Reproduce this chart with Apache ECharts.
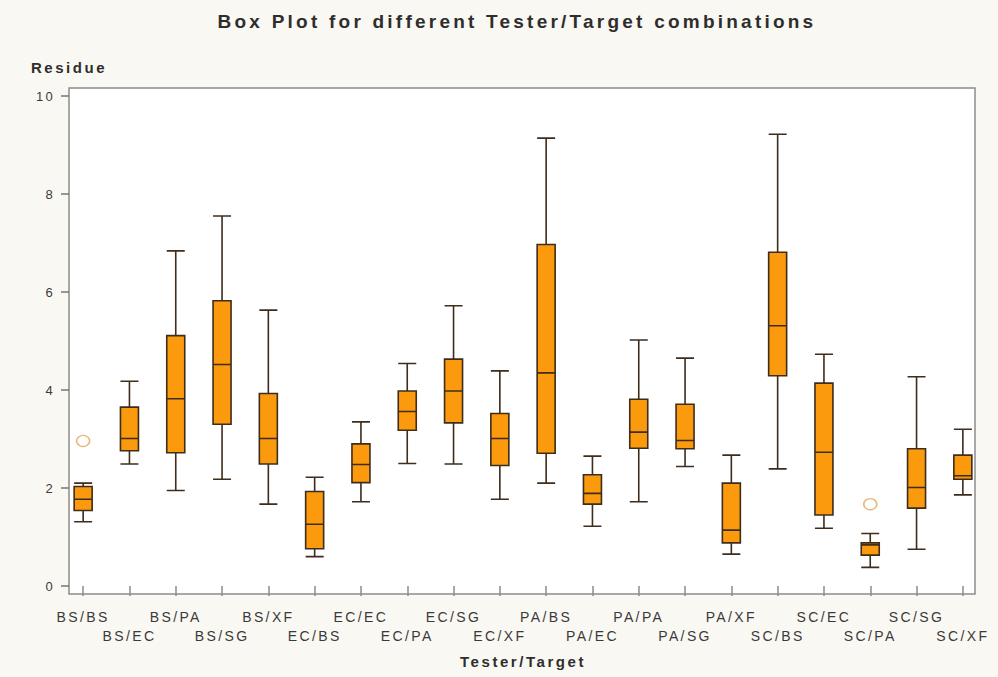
<!DOCTYPE html>
<html>
<head>
<meta charset="utf-8">
<title>Box Plot for different Tester/Target combinations</title>
<script src="https://cdn.jsdelivr.net/npm/echarts@6/dist/echarts.min.js"></script>
<style>
  html, body { margin: 0; padding: 0; background: #FAF8F2; }
  #chart { width: 998px; height: 677px; }
  /* widen the typeface a little, SAS-style */
  #chart svg text { letter-spacing: 0.17em; }
</style>
</head>
<body>
<div id="chart"></div>
<script>
// Tester/Target combinations
const categories = ['BS/BS','BS/EC','BS/PA','BS/SG','BS/XF','EC/BS','EC/EC','EC/PA','EC/SG','EC/XF',
                    'PA/BS','PA/EC','PA/PA','PA/SG','PA/XF','SC/BS','SC/EC','SC/PA','SC/SG','SC/XF'];

// Five-number summaries of Residue per combination
const lowerWhisker = [1.31, 2.49, 1.95, 2.18, 1.67, 0.60, 1.72, 2.50, 2.49, 1.77,
                      2.10, 1.22, 1.72, 2.44, 0.65, 2.39, 1.18, 0.38, 0.75, 1.86];
const q1           = [1.54, 2.76, 2.72, 3.30, 2.49, 0.76, 2.11, 3.18, 3.33, 2.46,
                      2.71, 1.67, 2.81, 2.80, 0.88, 4.29, 1.45, 0.63, 1.59, 2.18];
const median       = [1.77, 3.01, 3.82, 4.52, 3.01, 1.26, 2.48, 3.56, 3.98, 3.01,
                      4.35, 1.89, 3.14, 2.97, 1.14, 5.31, 2.73, 0.84, 2.01, 2.25];
const q3           = [2.03, 3.65, 5.11, 5.82, 3.93, 1.93, 2.90, 3.98, 4.63, 3.52,
                      6.97, 2.27, 3.81, 3.71, 2.10, 6.81, 4.14, 0.88, 2.80, 2.67];
const upperWhisker = [2.10, 4.18, 6.84, 7.55, 5.63, 2.22, 3.35, 4.54, 5.72, 4.39,
                      9.14, 2.65, 5.02, 4.65, 2.67, 9.22, 4.73, 1.07, 4.27, 3.20];

// Outlying observations
const outlierCategory = ['BS/BS', 'SC/PA'];
const outlierValue    = [2.96, 1.67];

// Y-axis tick values
const yTicks = [0, 2, 4, 6, 8, 10];

const boxData = categories.map((c, i) => [lowerWhisker[i], q1[i], median[i], q3[i], upperWhisker[i]]);
const outlierData = outlierCategory.map((c, i) => [c, outlierValue[i]]);

const FONT = "'Liberation Sans', Arial, sans-serif";
const chart = echarts.init(document.getElementById('chart'), null, { renderer: 'svg' });

chart.setOption({
  backgroundColor: '#FAF8F2',
  animation: false,
  title: {
    text: 'Box Plot for different Tester/Target combinations',
    left: 512,
    textAlign: 'center',
    top: 7,
    textStyle: { fontFamily: FONT, fontSize: 19, fontWeight: 'bold', color: '#2e2e2e' }
  },
  grid: [
    // framed plotting area
    { left: 69, right: 23, top: 88, bottom: 83, show: true,
      backgroundColor: '#ffffff', borderColor: '#8c8c8c', borderWidth: 1.5 },
    // data area: 20 equal category bands, 0..10 vertically
    { left: 60, right: 12, top: 96, bottom: 91 }
  ],
  xAxis: [
    { gridIndex: 0, type: 'value', show: false },
    {
      gridIndex: 1,
      type: 'category',
      data: categories,
      boundaryGap: true,
      offset: 8,
      name: 'Tester/Target',
      nameLocation: 'middle',
      nameGap: 60,
      nameTextStyle: { fontFamily: FONT, fontSize: 15, fontWeight: 'bold', color: '#2e2e2e' },
      axisLine: { show: false },
      axisTick: { show: true, alignWithLabel: true, length: 10, lineStyle: { color: '#8c8c8c', width: 1.5 } },
      axisLabel: {
        interval: 0,
        margin: 13,
        fontFamily: FONT,
        fontSize: 14,
        lineHeight: 19,
        color: '#3a3a3a',
        formatter: (v, i) => (i % 2 ? '\n' + v : v)
      },
      splitLine: { show: false }
    }
  ],
  yAxis: [
    { gridIndex: 0, type: 'value', show: false },
    {
      gridIndex: 1,
      type: 'value',
      min: yTicks[0],
      max: yTicks[yTicks.length - 1],
      interval: 2,
      offset: -9,
      name: 'Residue',
      nameLocation: 'end',
      nameGap: 29,
      nameTextStyle: { fontFamily: FONT, fontSize: 15, fontWeight: 'bold', color: '#2e2e2e',
                       verticalAlign: 'middle', align: 'center' },
      axisLine: { show: false },
      axisTick: { show: true, length: 8, lineStyle: { color: '#777', width: 1.5 } },
      axisLabel: { margin: 14, fontFamily: FONT, fontSize: 13, color: '#3a3a3a' },
      splitLine: { show: false }
    }
  ],
  series: [
    {
      type: 'boxplot',
      xAxisIndex: 1,
      yAxisIndex: 1,
      data: boxData,
      boxWidth: [18, 18],
      itemStyle: { color: '#FB9A0C', borderColor: '#3e2c1c', borderWidth: 1.6 }
    },
    {
      type: 'scatter',
      xAxisIndex: 1,
      yAxisIndex: 1,
      data: outlierData,
      symbol: 'circle',
      symbolSize: [13, 11],
      itemStyle: { color: 'rgba(0,0,0,0)', borderColor: '#E5A25A', borderWidth: 1.4 }
    }
  ]
});
</script>
</body>
</html>
